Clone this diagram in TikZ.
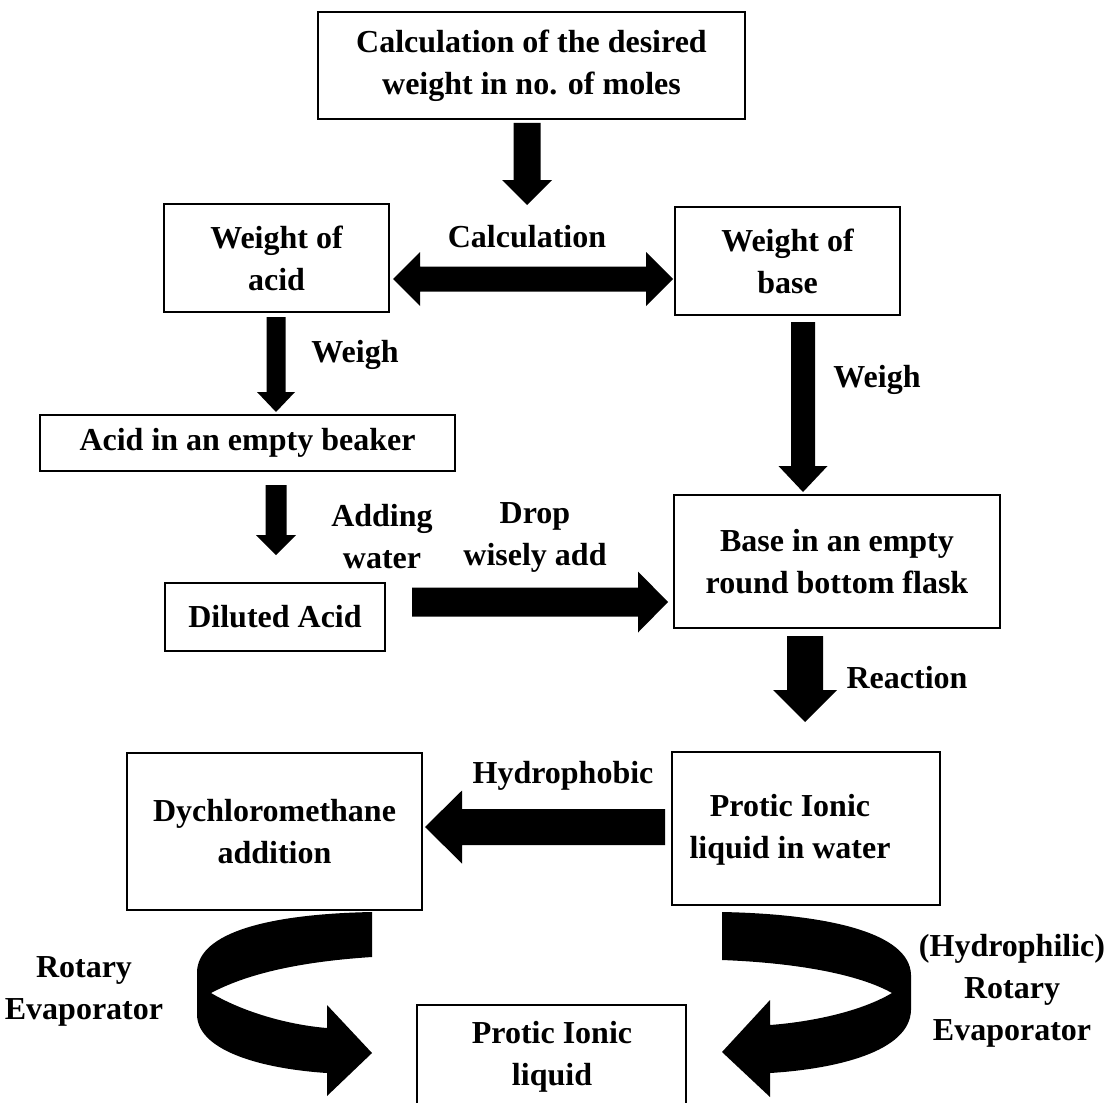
\documentclass[tikz,border=0pt]{standalone}
\usepackage{fontspec}
\setmainfont{Liberation Serif}
\newcommand\downblk[6]{% x, ytop, ytip, shaft half, head half, head length
  \fill ({#1-#4},{#2}) -- ({#1+#4},{#2}) -- ({#1+#4},{#3-#6}) -- ({#1+#5},{#3-#6}) -- ({#1},{#3})
    -- ({#1-#5},{#3-#6}) -- ({#1-#4},{#3-#6}) -- cycle;}
\newcommand\horblk[6]{% y, xtail, xtip, shaft half, head half, signed head length
  \fill ({#2},{#1-#4}) -- ({#3-#6},{#1-#4}) -- ({#3-#6},{#1-#5}) -- ({#3},{#1}) -- ({#3-#6},{#1+#5})
    -- ({#3-#6},{#1+#4}) -- ({#2},{#1+#4}) -- cycle;}
\newcommand\bx[6]{% name, x1, y1, x2, y2, text
  \node[box, minimum width={(#4-#2)*0.75pt}, minimum height={(#5-#3)*0.75pt}] (#1)
    at ({(#2+#4)/2},{(#3+#5)/2}) {#6};}
\begin{document}
\begin{tikzpicture}[x=0.75pt,y=-0.75pt,
  txt/.style={inner sep=0pt, align=center, font=\bfseries\fontsize{24}{31.5}\selectfont},
  box/.style={txt, draw, line width=1.6pt}]
\useasboundingbox (0,0) rectangle (1112,1102);
\clip (0,0) rectangle (1112,1102);

% boxes
\bx{top}{318}{12}{745}{119}{Calculation of the desired\\weight in no. of moles}
\bx{acid}{164}{204}{389}{312}{Weight of\\acid}
\bx{base}{675}{207}{900}{315}{Weight of\\base}
\bx{beaker}{40}{415}{455}{471}{Acid in an empty beaker}
\bx{dil}{165}{583}{385}{651}{Diluted Acid}
\bx{flask}{674}{495}{1000}{628}{Base in an empty\\round bottom flask}
\bx{dcm}{127}{753}{422}{910}{Dychloromethane\\addition}
\bx{pilw}{672}{752}{940}{905}{}
\node[txt] (pilwt) at (790,830) {Protic Ionic\\liquid in water};
\bx{pil}{417}{1005}{686}{1130}{}
\node[txt] (pilt) at (552,1057) {Protic Ionic\\liquid};

% labels
\node[txt] (lcalc) at (527,237) {Calculation};
\node[txt] (lweigh1) at (355,355) {Weigh};
\node[txt] (lweigh2) at (877,380) {Weigh};
\node[txt] (ladd) at (382,537) {Adding\\water};
\node[txt] (ldrop) at (535,537) {Drop\\wisely add};
\node[txt] (lreac) at (907,678) {Reaction};
\node[txt] (lhyd) at (563,776) {Hydrophobic};
\node[txt] (lrot1) at (84,991) {Rotary\\Evaporator};
\node[txt] (lrot2) at (1012,991) {(Hydrophilic)\\Rotary\\Evaporator};

% straight block arrows
\downblk{527}{123}{205}{13.5}{25}{25}
\downblk{276}{317}{412}{9.5}{19}{20}
\downblk{276}{485}{555}{10.5}{20}{20}
\downblk{803}{322}{492}{12}{24.5}{26}
\downblk{805}{636}{722}{18}{32}{32}
\horblk{602}{412}{668}{14.5}{30.5}{30}
\horblk{827}{665}{425}{18}{36.5}{-37}
% double arrow
\fill (393,279) -- (420,252) -- (420,266.5) -- (646,266.5) -- (646,252) -- (673,279)
  -- (646,306) -- (646,291.5) -- (420,291.5) -- (420,306) -- cycle;

% curved block arrows
\fill (372,912) .. controls (270,914) and (198,932) .. (197,972) -- (197,1015)
  .. controls (198,1052) and (265,1069) .. (327,1073) -- (327,1096) -- (372,1053)
  -- (327,1005) -- (327,1028) .. controls (290,1025) and (245,1013) .. (211,993)
  .. controls (245,975) and (295,962) .. (372,957) -- cycle;
\fill (722,912) .. controls (825,914) and (910,932) .. (911,975) -- (911,1010)
  .. controls (910,1052) and (835,1069) .. (770,1073) -- (770,1097) -- (722,1052)
  -- (770,1000) -- (770,1025) .. controls (810,1022) and (860,1012) .. (892,993)
  .. controls (860,975) and (800,963) .. (722,960) -- cycle;
\end{tikzpicture}
\end{document}
